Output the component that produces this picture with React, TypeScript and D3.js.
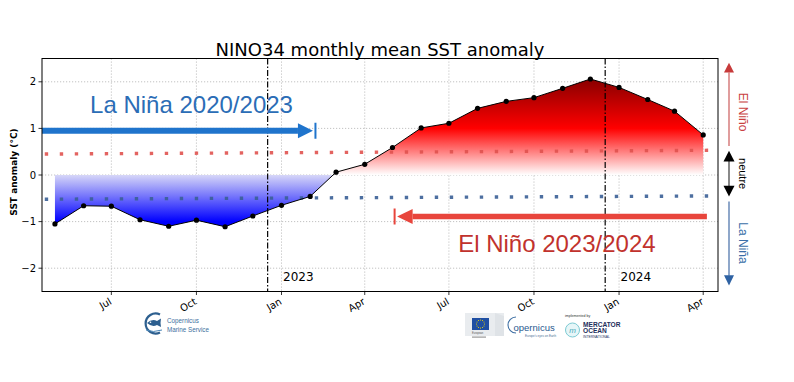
import React from 'react';
import * as d3 from 'd3';

// ---------- data ----------
const months = [
  '2022-05-01', '2022-06-01', '2022-07-01', '2022-08-01', '2022-09-01', '2022-10-01',
  '2022-11-01', '2022-12-01', '2023-01-01', '2023-02-01', '2023-03-01', '2023-04-01',
  '2023-05-01', '2023-06-01', '2023-07-01', '2023-08-01', '2023-09-01', '2023-10-01',
  '2023-11-01', '2023-12-01', '2024-01-01', '2024-02-01', '2024-03-01', '2024-04-01',
];
const sstAnomaly = [
  -1.05, -0.66, -0.67, -0.96, -1.1, -0.97, -1.11, -0.88, -0.65, -0.46, 0.06, 0.23,
  0.59, 1.01, 1.11, 1.43, 1.58, 1.66, 1.86, 2.06, 1.88, 1.62, 1.37, 0.86,
];
const xTickDates = [
  '2022-07-01', '2022-10-01', '2023-01-01', '2023-04-01',
  '2023-07-01', '2023-10-01', '2024-01-01', '2024-04-01',
];
const xTickLabels = ['Jul', 'Oct', 'Jan', 'Apr', 'Jul', 'Oct', 'Jan', 'Apr'];
const yTicks = [-2, -1, 0, 1, 2];
const thresholdDates = ['2022-04-20', '2024-04-09'];
const elNinoThreshold = [0.45, 0.53];
const laNinaThreshold = [-0.52, -0.45];
const yearLineDates = ['2022-12-17', '2023-12-17'];
const yearLabelDates = ['2023-01-01', '2024-01-01'];
const yearLabels = ['2023', '2024'];
const laNinaArrowDates = ['2022-04-17', '2023-02-04'];
const laNinaArrowY = 0.95;
const elNinoArrowDates = ['2024-04-05', '2023-05-06'];
const elNinoArrowY = -0.89;
const laNinaLabelPos = { date: '2022-06-08', y: 1.32, text: 'La Niña 2020/2023' };
const elNinoLabelPos = { date: '2023-07-11', y: -1.66, text: 'El Niño 2023/2024' };
const xDomain = ['2022-04-17', '2024-04-17'];
const yDomain = [-2.5, 2.5];

// ---------- helpers ----------
const W = 794;
const H = 382;
const M = { left: 42, right: 718, top: 58.5, bottom: 291.5 };
const d = (s: string) => new Date(s + 'T00:00:00Z');

const x = d3.scaleUtc().domain(xDomain.map(d)).range([M.left, M.right]);
const y = d3.scaleLinear().domain(yDomain).range([M.bottom, M.top]);

type P = { t: Date; v: number };
const pts: P[] = months.map((m, i) => ({ t: d(m), v: sstAnomaly[i] }));

// insert zero crossings so each colored area meets the zero line exactly
const aug: P[] = [];
pts.forEach((p, i) => {
  if (i > 0) {
    const a = pts[i - 1];
    if ((a.v < 0 && p.v > 0) || (a.v > 0 && p.v < 0)) {
      const f = a.v / (a.v - p.v);
      aug.push({ t: new Date(+a.t + f * (+p.t - +a.t)), v: 0 });
    }
  }
  aug.push(p);
});
const firstPos = aug.findIndex((q) => q.v > 0);

const negArea = d3
  .area<P>()
  .x((p) => x(p.t))
  .y0(y(0))
  .y1((p) => y(Math.min(p.v, 0)))(aug.filter((p, i) => firstPos < 0 || i < firstPos)) as string;
const posArea = d3
  .area<P>()
  .x((p) => x(p.t))
  .y0(y(0))
  .y1((p) => y(Math.max(p.v, 0)))(aug.filter((p, i) => i >= firstPos - 1)) as string;
const linePath = d3
  .line<P>()
  .x((p) => x(p.t))
  .y((p) => y(p.v))(pts) as string;

const minV = d3.min(sstAnomaly) as number;
const maxV = d3.max(sstAnomaly) as number;

const DV = 'DejaVu Sans, sans-serif';
const LS = 'Liberation Sans, Arial, sans-serif';

function HArrow({ xTail, xTip, yv, color, width, headLen, headHalf }: any) {
  const dir = xTip > xTail ? 1 : -1;
  const yy = y(yv);
  const base = xTip - dir * headLen;
  return (
    <g>
      <line x1={xTail} y1={yy} x2={base} y2={yy} stroke={color} strokeWidth={width} />
      <polygon
        points={`${xTip},${yy} ${base},${yy - headHalf} ${base},${yy + headHalf}`}
        fill={color}
      />
      <line
        x1={xTip + dir * 2.5}
        x2={xTip + dir * 2.5}
        y1={yy - headHalf - 0.5}
        y2={yy + headHalf + 0.5}
        stroke={color}
        strokeWidth={2}
      />
    </g>
  );
}

function Logos() {
  return (
    <g>
      {/* Copernicus Marine Service */}
      <g>
        <path
          d="M 160 314.5 A 10 10 0 1 0 160 332.5"
          fill="none"
          stroke="#2d5f8f"
          strokeWidth={2.2}
        />
        <path
          d="M 147 323 Q 152 318.5 157 321 L 161 318.5 L 160.5 323 L 161 327 L 157 325 Q 152 327.5 147 323 Z"
          fill="#2d5f8f"
        />
        <circle cx={150.5} cy={322.3} r={0.8} fill="#fff" />
        <path d="M 146 330 Q 153 333 162 330" fill="none" stroke="#4a86b8" strokeWidth={1} />
        <text x={167} y={323} fontFamily={LS} fontSize={6.3} fill="#3c6f9e">
          Copernicus
        </text>
        <text x={167} y={331.5} fontFamily={LS} fontSize={6.3} fill="#3c6f9e">
          Marine Service
        </text>
      </g>
      {/* EU */}
      <g>
        <rect x={465} y={313} width={39} height={23} fill="#e9ecef" />
        <path d="M 495 313 L 504 316 L 504 336 L 495 336 Z" fill="#dfe3e7" />
        <rect x={472} y={318} width={17} height={12} fill="#1f4fa3" />
        {d3.range(12).map((i) => {
          const a = (i / 12) * Math.PI * 2;
          return (
            <circle
              key={i}
              cx={480.5 + 4 * Math.cos(a)}
              cy={324 + 4 * Math.sin(a)}
              r={0.55}
              fill="#f5d800"
            />
          );
        })}
        <text x={472} y={334} fontFamily={LS} fontSize={2.6} fill="#555">
          European
        </text>
        <rect x={472} y={336.5} width={14} height={1.2} fill="#999" />
      </g>
      {/* Copernicus */}
      <g>
        <path
          d="M 516 317 A 7.5 7.5 0 1 0 516 333"
          fill="none"
          stroke="#3c6ea3"
          strokeWidth={1.1}
        />
        <text x={513.5} y={331} fontFamily={LS} fontSize={9.5} fill="#2a5a8f">
          opernicus
        </text>
        <text x={525} y={336.5} fontFamily={LS} fontSize={3} fill="#4a6f95">
          Europe's eyes on Earth
        </text>
      </g>
      {/* Mercator Ocean */}
      <g>
        <text x={565} y={317} fontFamily={LS} fontSize={3.6} fill="#333">
          implemented by
        </text>
        <circle cx={572.5} cy={330} r={7} fill="#e6f6f8" stroke="#7ccad3" strokeWidth={1} />
        <text
          x={572.5}
          y={332.5}
          textAnchor="middle"
          fontFamily={LS}
          fontSize={8}
          fontStyle="italic"
          fill="#49aab8"
        >
          m
        </text>
        <text x={583} y={326.8} fontFamily={LS} fontSize={6.6} fontWeight="bold" fill="#1e2f5c">
          MERCATOR
        </text>
        <text x={583} y={332.6} fontFamily={LS} fontSize={6.6} fontWeight="bold" fill="#1e2f5c">
          OCEAN
        </text>
        <text x={583} y={337.5} fontFamily={LS} fontSize={3.4} fill="#1e2f5c">
          INTERNATIONAL
        </text>
      </g>
    </g>
  );
}

export default function App() {
  const axX = 729;
  return (
    <svg
      width={W}
      height={H}
      viewBox={`0 0 ${W} ${H}`}
      style={{ position: 'absolute', left: 0, top: 0, background: '#fff' }}
    >
      <defs>
        <linearGradient
          id="gBlue"
          gradientUnits="userSpaceOnUse"
          x1={0}
          x2={0}
          y1={y(0)}
          y2={y(minV)}
        >
          <stop offset="0" stopColor="#d6d6f8" />
          <stop offset="0.9" stopColor="#0000ff" />
          <stop offset="1" stopColor="#0000f0" />
        </linearGradient>
        <linearGradient
          id="gRed"
          gradientUnits="userSpaceOnUse"
          x1={0}
          x2={0}
          y1={y(0)}
          y2={y(maxV)}
        >
          <stop offset="0" stopColor="#ffffff" />
          <stop offset={1 / maxV} stopColor="#ff0000" />
          <stop offset="1" stopColor="#880000" />
        </linearGradient>
        <clipPath id="plotClip">
          <rect x={M.left} y={M.top} width={M.right - M.left} height={M.bottom - M.top} />
        </clipPath>
      </defs>

      {/* title */}
      <text
        x={(M.left + M.right) / 2}
        y={55.5}
        textAnchor="middle"
        fontFamily={DV}
        fontSize={18}
        fill="#000"
      >
        NINO34 monthly mean SST anomaly
      </text>

      {/* grid */}
      <g stroke="#b3b3b3" strokeWidth={0.8} strokeDasharray="1.2,1.8">
        {xTickDates.map((t) => (
          <line key={t} x1={x(d(t))} x2={x(d(t))} y1={M.top} y2={M.bottom} />
        ))}
        {yTicks.map((v) => (
          <line key={v} x1={M.left} x2={M.right} y1={y(v)} y2={y(v)} />
        ))}
      </g>

      <g clipPath="url(#plotClip)">
        {/* fills */}
        <path d={negArea} fill="url(#gBlue)" />
        <path d={posArea} fill="url(#gRed)" />

        {/* threshold dotted lines */}
        <line
          x1={x(d(thresholdDates[0]))}
          x2={x(d(thresholdDates[1]))}
          y1={y(elNinoThreshold[0])}
          y2={y(elNinoThreshold[1])}
          stroke="#e0524f"
          strokeOpacity={0.9}
          strokeWidth={3.4}
          strokeDasharray="3.4,11.6"
        />
        <line
          x1={x(d(thresholdDates[0]))}
          x2={x(d(thresholdDates[1]))}
          y1={y(laNinaThreshold[0])}
          y2={y(laNinaThreshold[1])}
          stroke="#3a5f96"
          strokeOpacity={0.9}
          strokeWidth={3.4}
          strokeDasharray="3.4,11.6"
        />

        {/* year separators */}
        {yearLineDates.map((t) => (
          <line
            key={t}
            x1={x(d(t))}
            x2={x(d(t))}
            y1={M.top}
            y2={M.bottom}
            stroke="#000"
            strokeWidth={1.2}
            strokeDasharray="6,2,1.5,2"
          />
        ))}

        {/* line + markers */}
        <path d={linePath} fill="none" stroke="#000" strokeWidth={1} />
        {pts.map((p, i) => (
          <circle key={i} cx={x(p.t)} cy={y(p.v)} r={2.6} fill="#000" />
        ))}

        {/* arrows */}
        <HArrow
          xTail={x(d(laNinaArrowDates[0]))}
          xTip={x(d(laNinaArrowDates[1]))}
          yv={laNinaArrowY}
          color="#1f74cc"
          width={6}
          headLen={15}
          headHalf={7.5}
        />
        <HArrow
          xTail={x(d(elNinoArrowDates[0]))}
          xTip={x(d(elNinoArrowDates[1]))}
          yv={elNinoArrowY}
          color="#e8453c"
          width={5.5}
          headLen={15.5}
          headHalf={7.5}
        />
      </g>

      {/* year labels */}
      {yearLabelDates.map((t, i) => (
        <text
          key={t}
          x={x(d(t)) + 1.5}
          y={280.5}
          fontFamily={DV}
          fontSize={12}
          fill="#000"
        >
          {yearLabels[i]}
        </text>
      ))}

      {/* big labels */}
      <text
        x={x(d(laNinaLabelPos.date))}
        y={y(laNinaLabelPos.y)}
        fontFamily={LS}
        fontSize={24}
        fill="#2b6db6"
      >
        {laNinaLabelPos.text}
      </text>
      <text
        x={x(d(elNinoLabelPos.date))}
        y={y(elNinoLabelPos.y)}
        fontFamily={LS}
        fontSize={24}
        fill="#c1322d"
      >
        {elNinoLabelPos.text}
      </text>

      {/* frame */}
      <rect
        x={M.left}
        y={M.top}
        width={M.right - M.left}
        height={M.bottom - M.top}
        fill="none"
        stroke="#000"
        strokeWidth={1}
      />

      {/* y axis */}
      {yTicks.map((v) => (
        <g key={v}>
          <line x1={M.left - 3.5} x2={M.left} y1={y(v)} y2={y(v)} stroke="#000" strokeWidth={0.8} />
          <text
            x={M.left - 6}
            y={y(v) + 3.6}
            textAnchor="end"
            fontFamily={DV}
            fontSize={10}
            fill="#000"
          >
            {v < 0 ? '\u2212' + Math.abs(v) : String(v)}
          </text>
        </g>
      ))}
      <text
        transform={`translate(16.5, ${172}) rotate(-90)`}
        textAnchor="middle"
        fontFamily={DV}
        fontSize={9}
        fontWeight="bold"
        fill="#000"
      >
        SST anomaly (°C)
      </text>

      {/* x axis */}
      {xTickDates.map((t, i) => {
        const xx = x(d(t));
        return (
          <g key={t}>
            <line x1={xx} x2={xx} y1={M.bottom} y2={M.bottom + 3.5} stroke="#000" strokeWidth={0.8} />
            <text
              transform={`translate(${xx + 1}, ${M.bottom + 12}) rotate(-30)`}
              textAnchor="end"
              fontFamily={DV}
              fontSize={10}
              fill="#000"
            >
              {xTickLabels[i]}
            </text>
          </g>
        );
      })}

      {/* right-side legend arrows */}
      <g>
        <line x1={axX} x2={axX} y1={y(2.2)} y2={y(0.62)} stroke="#d98585" strokeWidth={1.6} />
        <polygon
          points={`${axX},${y(2.41)} ${axX - 5},${y(2.2)} ${axX + 5},${y(2.2)}`}
          fill="#c73a3a"
        />
        <text
          transform={`translate(${axX + 9.5}, ${y(1.35)}) rotate(90)`}
          textAnchor="middle"
          fontFamily={LS}
          fontSize={12}
          fill="#c9403f"
        >
          El Niño
        </text>

        <line x1={axX} x2={axX} y1={y(0.3)} y2={y(-0.25)} stroke="#6b6b6b" strokeWidth={1.6} />
        <polygon
          points={`${axX},${y(0.52)} ${axX - 5.5},${y(0.29)} ${axX + 5.5},${y(0.29)}`}
          fill="#000"
        />
        <polygon
          points={`${axX},${y(-0.46)} ${axX - 5.5},${y(-0.23)} ${axX + 5.5},${y(-0.23)}`}
          fill="#000"
        />
        <text
          transform={`translate(${axX + 9.5}, ${y(0.03)}) rotate(90)`}
          textAnchor="middle"
          fontFamily={LS}
          fontSize={11}
          fill="#000"
        >
          neutre
        </text>

        <line x1={axX} x2={axX} y1={y(-0.57)} y2={y(-2.16)} stroke="#7392bd" strokeWidth={1.6} />
        <polygon
          points={`${axX},${y(-2.37)} ${axX - 5},${y(-2.15)} ${axX + 5},${y(-2.15)}`}
          fill="#2e62a3"
        />
        <text
          transform={`translate(${axX + 9.5}, ${y(-1.46)}) rotate(90)`}
          textAnchor="middle"
          fontFamily={LS}
          fontSize={12}
          fill="#3a6ea8"
        >
          La Niña
        </text>
      </g>

      <Logos />
    </svg>
  );
}
